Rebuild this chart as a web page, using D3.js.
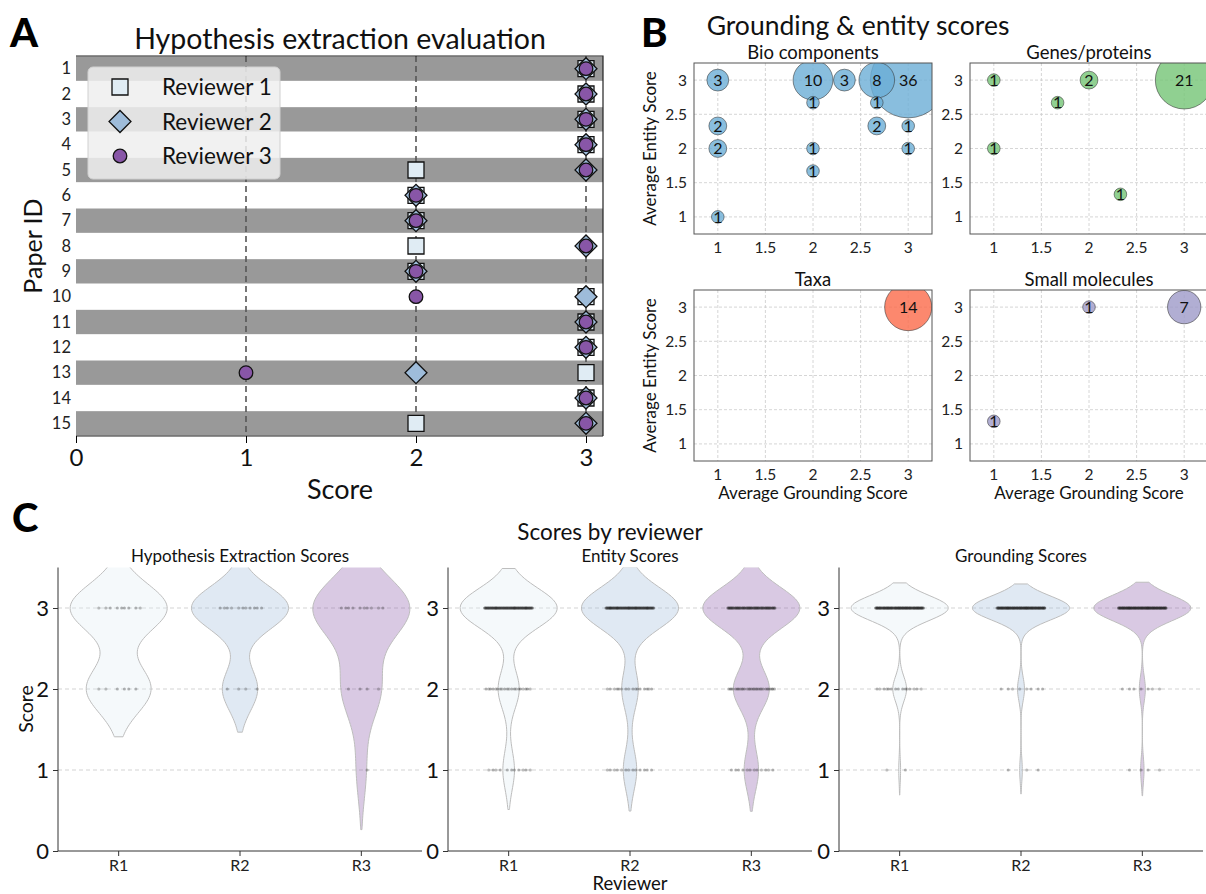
<!DOCTYPE html>
<html>
<head>
<meta charset="utf-8">
<style>
body { margin: 0; background: #fff; }
svg { font-family: Lato, "Open Sans", sans-serif; }
</style>
</head>
<body>
<script src="https://cdn.jsdelivr.net/npm/d3@7"></script>
<script>
var width = 1206, height = 894;

// ---- panel A: hypothesis extraction per paper ----
var paperIds = d3.range(1, 16);
var reviewerNames = ["Reviewer 1", "Reviewer 2", "Reviewer 3"];
var hypR1 = [3, 3, 3, 3, 2, 2, 2, 2, 2, 3, 3, 3, 3, 3, 2];
var hypR2 = [3, 3, 3, 3, 3, 2, 2, 3, 2, 3, 3, 3, 2, 3, 3];
var hypR3 = [3, 3, 3, 3, 3, 2, 2, 3, 2, 2, 3, 3, 1, 3, 3];
var reviewerColors = ["#e0ecf4", "#9ebcda", "#8856a7"];

// ---- panel B: grounding vs entity (avg of reviewers), bubble = count ----
var bioGround  = [1, 1, 1, 1, 2, 2.33, 2, 2, 2, 3, 2.67, 2.67, 2.67, 3, 3];
var bioEntity  = [3, 2.33, 2, 1, 3, 3, 2.67, 2, 1.67, 3, 3, 2.67, 2.33, 2.33, 2];
var bioCount   = [3, 2, 2, 1, 10, 3, 1, 1, 1, 36, 8, 1, 2, 1, 1];
var geneGround = [1, 1, 1.67, 2, 2.33, 3];
var geneEntity = [3, 2, 2.67, 3, 1.33, 3];
var geneCount  = [1, 1, 1, 2, 1, 21];
var taxaGround = [3];
var taxaEntity = [3];
var taxaCount  = [14];
var smolGround = [1, 2, 3];
var smolEntity = [1.33, 3, 3];
var smolCount  = [1, 1, 7];
var bubbleTicks = [1, 1.5, 2, 2.5, 3];

// ---- panel C: score counts per reviewer (scores 3, 2, 1) ----
var scoreLevels = [3, 2, 1];
var entityR1 = [92, 20, 11];
var entityR2 = [94, 16, 13];
var entityR3 = [81, 30, 12];
var groundR1 = [106, 15, 2];
var groundR2 = [112, 8, 3];
var groundR3 = [112, 7, 4];
var shortNames = ["R1", "R2", "R3"];

var svg = d3.select("body").append("svg")
    .attr("width", width)
    .attr("height", height);
var defs = svg.append("defs");

function letter(t, x, y) {
  svg.append("text").attr("x", x).attr("y", y)
    .style("font-size", "40px").style("font-weight", "900").text(t);
}

// ================= A =================
letter("A", 10, 47);
var xA = d3.scaleLinear().domain([0, 3.1]).range([76, 603]);
var yA = d3.scaleLinear().domain([0.5, 15.5]).range([56, 436]);
var gA = svg.append("g");

gA.selectAll("rect.band")
    .data(paperIds.filter(function(d) { return d % 2 == 1; }))
  .enter().append("rect")
    .attr("x", xA(0)).attr("width", xA(3.1) - xA(0))
    .attr("y", function(d) { return yA(d - 0.5) + 0.5; })
    .attr("height", function(d) { return yA(d + 0.5) - yA(d - 0.5) - 1; })
    .style("fill", "#999");

gA.selectAll("line.vl").data([1, 2, 3]).enter().append("line")
    .attr("x1", xA).attr("x2", xA).attr("y1", yA(0.5)).attr("y2", yA(15.5))
    .style("stroke", "#555").style("stroke-width", 1.6).style("stroke-dasharray", "6,4");

gA.append("path")
    .attr("d", "M" + xA(0) + "," + yA(0.5) + "H" + xA(3.1) + "V" + yA(15.5))
    .style("fill", "none").style("stroke", "#222").style("stroke-width", 1.2);

var axA = gA.append("g").attr("transform", "translate(0," + yA(15.5) + ")")
    .call(d3.axisBottom(xA).tickValues([0, 1, 2, 3]).tickSize(7).tickPadding(6).tickFormat(d3.format("d")));
axA.select(".domain").attr("d", "M" + xA(0) + ",0H" + xA(3.1)).style("stroke", "#222").style("stroke-width", 1.2);
axA.selectAll("text").style("font-size", "24px").style("font-family", "Lato").style("fill", "#111");

gA.selectAll("text.pid").data(paperIds).enter().append("text")
    .attr("x", 71).attr("y", function(d) { return yA(d); }).attr("dy", "0.35em")
    .attr("text-anchor", "end").style("font-size", "16.5px").style("fill", "#222")
    .text(function(d) { return d; });

var sqSym = d3.symbol().type(d3.symbolSquare).size(16 * 16);
var diaSym = d3.symbol().type(d3.symbolSquare).size(15.5 * 15.5);
var cirSym = d3.symbol().type(d3.symbolCircle).size(Math.PI * 6.8 * 6.8);
var markerDefs = [
  { vals: hypR1, sym: sqSym, rot: 0 },
  { vals: hypR2, sym: diaSym, rot: 45 },
  { vals: hypR3, sym: cirSym, rot: 0 }
];
markerDefs.forEach(function(m, k) {
  gA.selectAll("path.m" + k).data(m.vals).enter().append("path")
      .attr("d", m.sym)
      .attr("transform", function(d, i) {
        return "translate(" + xA(d) + "," + yA(paperIds[i]) + ") rotate(" + m.rot + ")";
      })
      .style("fill", reviewerColors[k]).style("stroke", "#111").style("stroke-width", 1.3);
});

// legend
var lg = gA.append("g").attr("transform", "translate(88,67)");
lg.append("rect").attr("width", 192).attr("height", 112).attr("rx", 5)
    .style("fill", "#eeeeee").style("fill-opacity", 0.85).style("stroke", "#d0d0d0");
reviewerNames.forEach(function(name, k) {
  var yy = 20 + k * 34.5;
  lg.append("path").attr("d", markerDefs[k].sym)
      .attr("transform", "translate(32," + yy + ") rotate(" + markerDefs[k].rot + ")")
      .style("fill", reviewerColors[k]).style("stroke", "#111").style("stroke-width", 1.3);
  lg.append("text").attr("x", 74).attr("y", yy).attr("dy", "0.36em")
      .style("font-size", "22.5px").style("fill", "#111").text(name);
});

svg.append("text").attr("x", 340).attr("y", 49).attr("text-anchor", "middle")
    .style("font-size", "28.5px").style("fill", "#111").text("Hypothesis extraction evaluation");
svg.append("text").attr("transform", "translate(42,246) rotate(-90)").attr("text-anchor", "middle")
    .style("font-size", "25px").style("fill", "#111").text("Paper ID");
svg.append("text").attr("x", 340).attr("y", 499).attr("text-anchor", "middle")
    .style("font-size", "27px").style("fill", "#111").text("Score");

// ================= B =================
letter("B", 641, 47);
svg.append("text").attr("x", 858).attr("y", 35).attr("text-anchor", "middle")
    .style("font-size", "26.5px").style("fill", "#111").text("Grounding & entity scores");

var bubbleR = function(n) { return 6.3 * Math.sqrt(n); };
var panelsB = [
  { title: "Bio components", gx: bioGround, ey: bioEntity, n: bioCount, color: "#6baed6", x0: 694, y0: 63, ylab: true, xlab: false },
  { title: "Genes/proteins", gx: geneGround, ey: geneEntity, n: geneCount, color: "#74c476", x0: 970, y0: 63, ylab: false, xlab: false },
  { title: "Taxa", gx: taxaGround, ey: taxaEntity, n: taxaCount, color: "#fb6a4a", x0: 694, y0: 290, ylab: true, xlab: true },
  { title: "Small molecules", gx: smolGround, ey: smolEntity, n: smolCount, color: "#9e9ac8", x0: 970, y0: 290, ylab: false, xlab: true }
];
panelsB.forEach(function(p, pi) {
  var w = 238, h = 171;
  var x = d3.scaleLinear().domain([0.75, 3.25]).range([p.x0, p.x0 + w]);
  var y = d3.scaleLinear().domain([0.75, 3.25]).range([p.y0 + h, p.y0]);
  var g = svg.append("g");
  defs.append("clipPath").attr("id", "clipB" + pi).append("rect")
      .attr("x", p.x0).attr("y", p.y0).attr("width", w).attr("height", h);

  g.selectAll("line.gx").data(bubbleTicks).enter().append("line")
      .attr("x1", x).attr("x2", x).attr("y1", p.y0).attr("y2", p.y0 + h)
      .style("stroke", "#ccc").style("stroke-width", 0.8).style("stroke-dasharray", "3,2");
  g.selectAll("line.gy").data(bubbleTicks).enter().append("line")
      .attr("y1", y).attr("y2", y).attr("x1", p.x0).attr("x2", p.x0 + w)
      .style("stroke", "#ccc").style("stroke-width", 0.8).style("stroke-dasharray", "3,2");

  var pts = p.n.map(function(c, i) { return { gx: p.gx[i], ey: p.ey[i], n: c }; });
  var bg = g.append("g").attr("clip-path", "url(#clipB" + pi + ")");
  bg.selectAll("circle").data(pts).enter().append("circle")
      .attr("cx", function(d) { return x(d.gx); })
      .attr("cy", function(d) { return y(d.ey); })
      .attr("r", function(d) { return bubbleR(d.n); })
      .style("fill", p.color).style("fill-opacity", 0.8)
      .style("stroke", "#333").style("stroke-opacity", 0.7).style("stroke-width", 0.8);
  bg.selectAll("text").data(pts).enter().append("text")
      .attr("x", function(d) { return x(d.gx); })
      .attr("y", function(d) { return y(d.ey); })
      .attr("dy", "0.36em").attr("text-anchor", "middle")
      .style("font-size", "16px").style("fill", "#111")
      .text(function(d) { return d.n; });

  g.append("rect").attr("x", p.x0).attr("y", p.y0).attr("width", w).attr("height", h)
      .style("fill", "none").style("stroke", "#555").style("stroke-width", 1);

  g.selectAll("text.tx").data(bubbleTicks).enter().append("text")
      .attr("x", x).attr("y", p.y0 + h + 19).attr("text-anchor", "middle")
      .style("font-size", "15.5px").style("fill", "#222").text(function(d) { return d; });
  g.selectAll("text.ty").data(bubbleTicks).enter().append("text")
      .attr("x", p.x0 - 7).attr("y", y).attr("dy", "0.35em").attr("text-anchor", "end")
      .style("font-size", "15.5px").style("fill", "#222").text(function(d) { return d; });

  g.append("text").attr("x", p.x0 + w / 2).attr("y", p.y0 - 4).attr("text-anchor", "middle")
      .style("font-size", "18.5px").style("fill", "#111").text(p.title);
  if (p.ylab) {
    g.append("text").attr("transform", "translate(656," + (p.y0 + h / 2) + ") rotate(-90)")
        .attr("text-anchor", "middle").style("font-size", "17px").style("fill", "#111")
        .text("Average Entity Score");
  }
  if (p.xlab) {
    g.append("text").attr("x", p.x0 + w / 2).attr("y", 499).attr("text-anchor", "middle")
        .style("font-size", "17px").style("fill", "#111").text("Average Grounding Score");
  }
});

// ================= C =================
letter("C", 12, 532);
svg.append("text").attr("x", 610).attr("y", 540).attr("text-anchor", "middle")
    .style("font-size", "22.5px").style("fill", "#111").text("Scores by reviewer");

function expand(counts) {
  var out = [];
  counts.forEach(function(c, i) { for (var j = 0; j < c; j++) out.push(scoreLevels[i]); });
  return out;
}

function kde(values) {
  var n = values.length, sd = d3.deviation(values);
  var bw = sd * Math.pow(n, -0.2);
  var lo = d3.min(values) - 2 * bw, hi = d3.max(values) + 2 * bw;
  return d3.range(100).map(function(i) {
    var v = lo + (hi - lo) * i / 99;
    return [v, d3.sum(values, function(s) { return Math.exp(-0.5 * Math.pow((v - s) / bw, 2)); })];
  });
}

var panelsC = [
  { title: "Hypothesis Extraction Scores", data: [hypR1, hypR2, hypR3], x0: 58 },
  { title: "Entity Scores", data: [expand(entityR1), expand(entityR2), expand(entityR3)], x0: 448 },
  { title: "Grounding Scores", data: [expand(groundR1), expand(groundR2), expand(groundR3)], x0: 839 }
];
var yC = d3.scaleLinear().domain([0, 3.5]).range([851, 567.5]);

panelsC.forEach(function(p, pi) {
  var w = 364;
  var x = d3.scaleBand().domain(shortNames).range([p.x0, p.x0 + w]);
  var bwid = x.bandwidth();
  var g = svg.append("g");
  defs.append("clipPath").attr("id", "clipC" + pi).append("rect")
      .attr("x", p.x0).attr("y", yC(3.5)).attr("width", w).attr("height", yC(0) - yC(3.5));

  g.selectAll("line.grid").data([1, 2, 3]).enter().append("line")
      .attr("x1", p.x0).attr("x2", p.x0 + w).attr("y1", yC).attr("y2", yC)
      .style("stroke", "#c8c8c8").style("stroke-width", 0.8).style("stroke-dasharray", "4,3");

  var vg = g.append("g").attr("clip-path", "url(#clipC" + pi + ")");
  p.data.forEach(function(vals, k) {
    var dens = kde(vals);
    var mx = d3.max(dens, function(d) { return d[1]; });
    var cx = x(shortNames[k]) + bwid / 2;
    var half = 0.4 * bwid;
    var area = d3.area()
        .y(function(d) { return yC(d[0]); })
        .x0(function(d) { return cx - half * d[1] / mx; })
        .x1(function(d) { return cx + half * d[1] / mx; })
        .curve(d3.curveCatmullRom);
    vg.append("path").datum(dens).attr("d", area)
        .style("fill", reviewerColors[k]).style("fill-opacity", 0.32)
        .style("stroke", "#bdbdbd").style("stroke-width", 1);

    // deterministic jitter for strip points
    var seen = {};
    vg.selectAll("circle.s" + k).data(vals).enter().append("circle")
        .attr("cx", function(d) {
          seen[d] = (seen[d] || 0) + 1;
          var f = (seen[d] * 0.618034) % 1;
          return cx + (f - 0.5) * 2 * 0.2 * bwid;
        })
        .attr("cy", function(d) { return yC(d); })
        .attr("r", 1.6)
        .style("fill", "#222").style("fill-opacity", 0.3);
  });

  var ay = g.append("g").attr("transform", "translate(" + p.x0 + ",0)")
      .call(d3.axisLeft(yC).tickValues([0, 1, 2, 3]).tickSize(5).tickPadding(4).tickFormat(d3.format("d")));
  ay.select(".domain").attr("d", "M0," + yC(3.5) + "V" + yC(0)).style("stroke", "#333");
  ay.selectAll("line").style("stroke", "#333");
  ay.selectAll("text").style("font-size", "22px").style("font-family", "Lato").style("fill", "#111");

  var ax = g.append("g").attr("transform", "translate(0," + yC(0) + ")")
      .call(d3.axisBottom(x).tickSize(5).tickPadding(4));
  ax.select(".domain").attr("d", "M" + p.x0 + ",0H" + (p.x0 + w)).style("stroke", "#333");
  ax.selectAll("line").style("stroke", "#333");
  ax.selectAll("text").style("font-size", "16px").style("font-family", "Lato").style("fill", "#222");

  g.append("text").attr("x", p.x0 + w / 2).attr("y", 562).attr("text-anchor", "middle")
      .style("font-size", "17px").style("fill", "#111").text(p.title);
});

svg.append("text").attr("transform", "translate(33,709) rotate(-90)").attr("text-anchor", "middle")
    .style("font-size", "19.5px").style("fill", "#111").text("Score");
svg.append("text").attr("x", 630).attr("y", 890).attr("text-anchor", "middle")
    .style("font-size", "18.5px").style("fill", "#111").text("Reviewer");
</script>
</body>
</html>
